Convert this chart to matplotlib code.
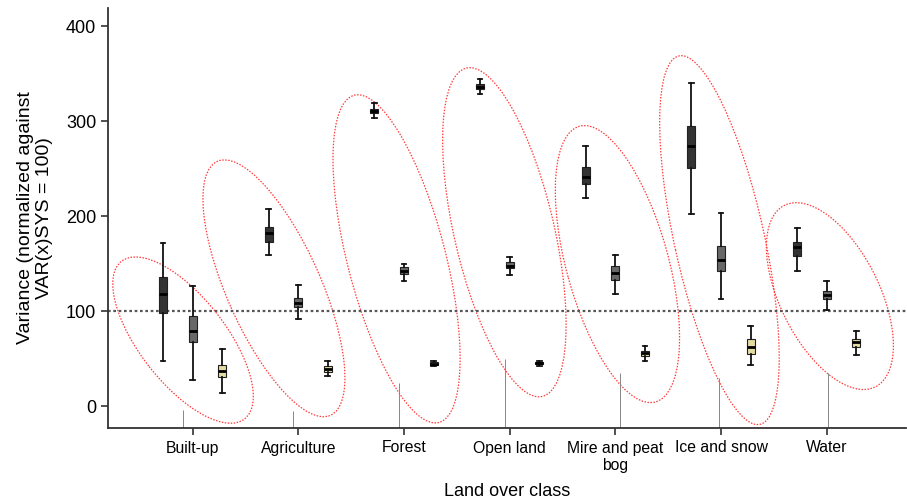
import matplotlib
matplotlib.use("Agg")
import matplotlib.pyplot as plt
from matplotlib.patches import Ellipse
from matplotlib.transforms import ScaledTranslation

plt.rcParams['font.family'] = ['Liberation Sans', 'DejaVu Sans']

categories = ["Built-up", "Agriculture", "Forest", "Open land",
              "Mire and peat\nbog", "Ice and snow", "Water"]

# series 1 (dark boxes)
dark_whislo = [48, 159, 303, 328, 219, 202, 142]
dark_q1     = [98, 173, 308, 334, 234, 251, 158]
dark_med    = [118, 182, 311, 336, 241, 274, 167]
dark_q3     = [136, 189, 313, 339, 252, 295, 173]
dark_whishi = [172, 207, 319, 344, 274, 340, 187]

# series 2 (grey boxes)
grey_whislo = [27, 92, 132, 138, 118, 113, 101]
grey_q1     = [68, 104, 139, 145, 133, 142, 113]
grey_med    = [79, 109, 142, 148, 140, 154, 117]
grey_q3     = [95, 114, 146, 152, 147, 169, 121]
grey_whishi = [126, 127, 150, 157, 159, 203, 132]

# series 3 (light boxes)
light_whislo = [14, 32, 42, 42, 47, 43, 54]
light_q1     = [31, 36, 43.5, 44, 53, 55, 62]
light_med    = [37, 39, 44.5, 45, 55.5, 62.5, 67]
light_q3     = [43, 42.5, 46, 46.5, 58, 71, 71]
light_whishi = [60, 47, 47.5, 48, 63, 84, 79]

reference_level = 100
yticks = [0, 100, 200, 300, 400]

# thin grey leader lines under each group (top value)
leader_top = [-4, -5, 24, 50, 35, 29.5, 35]

series = [
    (dark_whislo, dark_q1, dark_med, dark_q3, dark_whishi, "#333333"),
    (grey_whislo, grey_q1, grey_med, grey_q3, grey_whishi, "#686868"),
    (light_whislo, light_q1, light_med, light_q3, light_whishi, "#e2dba2"),
]
offsets = [-0.28, 0.0, 0.28]

fig = plt.figure(figsize=(9.07, 4.99), dpi=100)
ax = fig.add_axes([108/907, 1-428/499, (906-108)/907, (428-8)/499])

ax.set_xlim(-0.80, 6.75)
ax.set_ylim(-23, 419)

for (lo, q1, med, q3, hi, col), off in zip(series, offsets):
    stats = []
    for i in range(len(categories)):
        stats.append(dict(whislo=lo[i], q1=q1[i], med=med[i], q3=q3[i],
                          whishi=hi[i], fliers=[]))
    pos = [i + off for i in range(len(categories))]
    ax.bxp(stats, positions=pos, widths=0.075, patch_artist=True,
           showfliers=False, manage_ticks=False,
           boxprops=dict(facecolor=col, edgecolor="#222222", linewidth=0.8),
           whiskerprops=dict(color="#111111", linewidth=1.3),
           capprops=dict(color="#111111", linewidth=1.3),
           capwidths=0.045,
           medianprops=dict(color="#000000", linewidth=2.0))

ax.axhline(reference_level, color="#555555", linestyle=(0, (1.2, 1.2)),
           linewidth=1.6, zorder=1)

# leader lines
leader_dx = [-0.095, -0.045, -0.05, -0.04, 0.04, -0.015, 0.01]
ax.vlines([i + d for i, d in enumerate(leader_dx)], -23, leader_top,
          color="#888888", linewidth=0.7, zorder=1)

# red dotted ellipses around each group: (dx, cy, semi-major px, semi-minor px, angle)
ellipses = [(-0.09, 69.5, 100, 43, -52),
            (-0.23, 124, 139, 47, -66),
            (-0.07, 155, 169, 49, -75.5),
            (-0.05, 183, 168.5, 50, -77),
            (0.02, 149.5, 143, 51, -74.6),
            (-0.015, 174.7, 188.6, 45, -77.6),
            (0.03, 115.8, 101.5, 49.6, -63.4)]
for i, (dx, cy, a, b, ang) in enumerate(ellipses):
    tr = fig.dpi_scale_trans + ScaledTranslation(i + dx, cy, ax.transData)
    e = Ellipse((0, 0), 2*a/100, 2*b/100, angle=ang, transform=tr,
                fill=False, edgecolor="#ff3b3b", linestyle=(0, (1.2, 1.2)),
                linewidth=0.9, zorder=0.5)
    ax.add_patch(e)

ax.set_xticks(range(len(categories)))
ax.set_xticklabels(categories, fontsize=11.3)
ax.set_yticks(yticks)
ax.set_yticklabels([str(v) for v in yticks], fontsize=13)
ax.tick_params(axis='both', direction='out', length=5, width=1.2, color="#333333")
ax.tick_params(axis='x', pad=4)
for s in ["top", "right"]:
    ax.spines[s].set_visible(False)
for s in ["left", "bottom"]:
    ax.spines[s].set_color("#333333")
    ax.spines[s].set_linewidth(1.3)

ax.set_ylabel("Variance (normalized against\nVAR(x)SYS = 100)", fontsize=14,
              labelpad=9, linespacing=1.2)
ax.set_xlabel("Land over class", fontsize=13, labelpad=7)

fig.savefig("out.png", dpi=100)
